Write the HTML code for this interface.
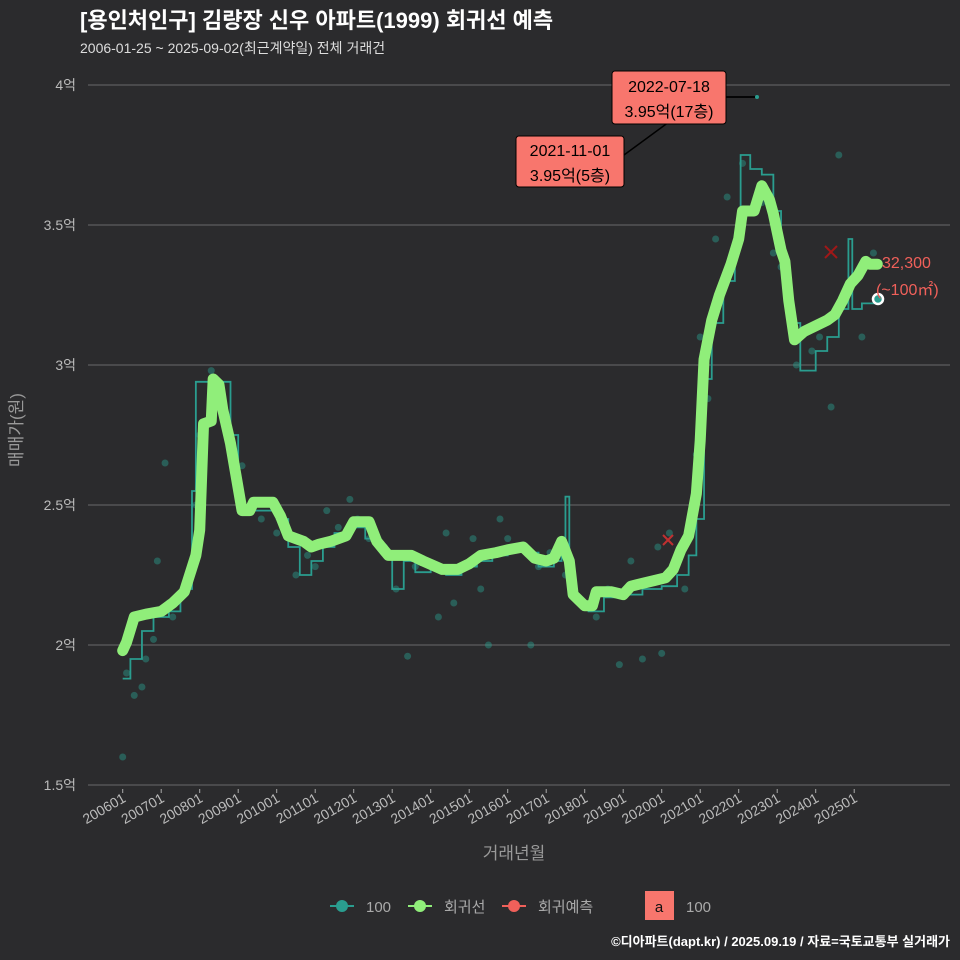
<!DOCTYPE html>
<html><head><meta charset="utf-8"><style>
body{margin:0;background:#2b2b2d;}
svg{display:block;font-family:"Liberation Sans","Noto Sans CJK KR",sans-serif;}
</style></head><body>
<svg id="c" width="960" height="960" viewBox="0 0 960 960">
<rect width="960" height="960" fill="#2b2b2d"/>
<text x="80" y="28" fill="#fff" font-size="22" font-weight="bold">[용인처인구] 김량장 신우 아파트(1999) 회귀선 예측</text>
<text x="80" y="53" fill="#ddd" font-size="14">2006-01-25 ~ 2025-09-02(최근계약일) 전체 거래건</text>
<g id="grid"></g><g id="yt"></g><g id="xt"></g>
<g id="pts"></g><g id="teal"></g><g id="green"></g><g id="ann"></g>
<text x="22" y="430" fill="#999" font-size="17" transform="rotate(-90 22 430)" text-anchor="middle">매매가(원)</text>
<text x="514" y="859" fill="#999" font-size="17" text-anchor="middle">거래년월</text>
<g font-size="15" fill="#aaa">
<g><line x1="330" y1="906" x2="354" y2="906" stroke="#2a9d8f" stroke-width="2"/><circle cx="342" cy="906" r="6" fill="#2a9d8f"/><text x="366" y="912">100</text></g>
<g><line x1="408" y1="906" x2="432" y2="906" stroke="#90ee7a" stroke-width="2"/><circle cx="420" cy="906" r="6" fill="#90ee7a"/><text x="444" y="912">회귀선</text></g>
<g><line x1="502" y1="906" x2="526" y2="906" stroke="#f0605a" stroke-width="2"/><circle cx="514" cy="906" r="6" fill="#f0605a"/><text x="538" y="912">회귀예측</text></g>
<g><rect x="645" y="891" width="29" height="29" fill="#f8766d"/><text x="659" y="912" fill="#111" text-anchor="middle">a</text><text x="686" y="912">100</text></g>
</g>
<text x="950" y="946" fill="#fff" font-size="13" font-weight="bold" text-anchor="end">©디아파트(dapt.kr) / 2025.09.19 / 자료=국토교통부 실거래가</text>
</svg>
<script>
const yTicks=[1.5,2,2.5,3,3.5,4];
const yLabels=["1.5억","2억","2.5억","3억","3.5억","4억"];
const xTickYears=[2006,2007,2008,2009,2010,2011,2012,2013,2014,2015,2016,2017,2018,2019,2020,2021,2022,2023,2024,2025];
const xTickLabels=["200601","200701","200801","200901","201001","201101","201201","201301","201401","201501","201601","201701","201801","201901","202001","202101","202201","202301","202401","202501"];
const greenT=[2006.0,2006.1,2006.3,2006.6,2007.0,2007.3,2007.6,2007.9,2008.0,2008.1,2008.3,2008.35,2008.5,2008.6,2008.8,2009.0,2009.1,2009.3,2009.4,2009.9,2010.1,2010.3,2010.7,2010.9,2011.1,2011.4,2011.8,2012.0,2012.4,2012.6,2012.9,2013.5,2013.8,2014.3,2014.7,2015.0,2015.3,2015.7,2016.0,2016.4,2016.7,2017.0,2017.2,2017.4,2017.6,2017.7,2018.0,2018.2,2018.3,2018.7,2019.0,2019.2,2019.5,2019.8,2020.1,2020.3,2020.5,2020.7,2020.9,2021.0,2021.1,2021.3,2021.5,2021.8,2022.0,2022.1,2022.4,2022.6,2022.8,2022.9,2023.1,2023.2,2023.3,2023.45,2023.7,2024.0,2024.3,2024.5,2024.7,2024.9,2025.1,2025.3,2025.4,2025.6];
const greenV=[1.98,2.01,2.10,2.11,2.12,2.15,2.19,2.32,2.41,2.79,2.80,2.95,2.93,2.84,2.72,2.56,2.48,2.48,2.51,2.51,2.46,2.39,2.37,2.35,2.36,2.37,2.39,2.44,2.44,2.37,2.32,2.32,2.30,2.27,2.27,2.29,2.32,2.33,2.34,2.35,2.31,2.30,2.31,2.37,2.30,2.18,2.14,2.14,2.19,2.19,2.18,2.21,2.22,2.23,2.24,2.27,2.34,2.39,2.54,2.73,3.02,3.16,3.25,3.36,3.45,3.55,3.55,3.64,3.59,3.54,3.41,3.37,3.23,3.09,3.12,3.14,3.16,3.18,3.23,3.29,3.32,3.37,3.36,3.36];
const tealT=[2006.0,2006.2,2006.5,2006.8,2007.2,2007.5,2007.8,2007.9,2008.6,2008.8,2009.0,2009.2,2009.6,2010.0,2010.3,2010.6,2010.9,2011.2,2011.5,2011.9,2012.3,2012.7,2013.0,2013.3,2013.6,2014.0,2014.4,2014.8,2015.2,2015.6,2016.0,2016.4,2016.8,2017.2,2017.4,2017.5,2017.6,2017.8,2018.1,2018.5,2019.0,2019.5,2020.0,2020.4,2020.7,2020.9,2021.1,2021.3,2021.6,2021.9,2022.05,2022.3,2022.6,2022.9,2023.1,2023.3,2023.6,2024.0,2024.3,2024.6,2024.85,2024.95,2025.2,2025.6];
const tealV=[1.88,1.95,2.05,2.10,2.12,2.20,2.55,2.94,2.94,2.75,2.50,2.48,2.48,2.45,2.35,2.25,2.30,2.35,2.40,2.42,2.38,2.33,2.20,2.30,2.26,2.28,2.25,2.28,2.30,2.32,2.35,2.33,2.28,2.30,2.36,2.53,2.20,2.15,2.12,2.17,2.18,2.20,2.21,2.25,2.32,2.45,2.95,3.15,3.30,3.45,3.75,3.70,3.68,3.55,3.35,3.15,2.98,3.05,3.10,3.20,3.45,3.20,3.22,3.23];
const ptT=[2006.0,2006.1,2006.3,2006.5,2006.6,2006.8,2006.9,2007.1,2007.2,2007.3,2007.6,2007.9,2008.0,2008.3,2008.5,2009.1,2009.6,2010.0,2010.5,2010.8,2011.0,2011.3,2011.6,2011.9,2012.1,2012.4,2012.8,2013.1,2013.4,2013.6,2013.9,2014.2,2014.4,2014.6,2014.9,2015.1,2015.3,2015.5,2015.8,2016.0,2016.3,2016.6,2016.8,2017.1,2017.5,2018.0,2018.3,2018.6,2018.9,2019.2,2019.5,2019.9,2020.0,2020.2,2020.6,2020.9,2021.0,2021.2,2021.4,2021.7,2022.1,2022.6,2022.9,2023.1,2023.5,2023.9,2024.1,2024.4,2024.6,2024.9,2025.2,2025.5];
const ptV=[1.60,1.90,1.82,1.85,1.95,2.02,2.30,2.65,2.15,2.10,2.20,2.50,2.75,2.98,2.90,2.64,2.45,2.40,2.25,2.32,2.28,2.48,2.42,2.52,2.45,2.38,2.35,2.20,1.96,2.28,2.30,2.10,2.40,2.15,2.28,2.38,2.20,2.00,2.45,2.38,2.35,2.00,2.28,2.33,2.25,2.15,2.10,2.20,1.93,2.30,1.95,2.35,1.97,2.40,2.20,2.68,3.10,2.88,3.45,3.60,3.72,3.58,3.40,3.35,3.00,3.05,3.10,2.85,3.75,3.30,3.10,3.40];
const NS='http://www.w3.org/2000/svg';
const X=t=>122.7+(t-2006)*38.5, Y=v=>85+(4-v)*280;
function mk(tag,attrs,parent){const e=document.createElementNS(NS,tag);for(const k in attrs)e.setAttribute(k,attrs[k]);document.getElementById(parent).appendChild(e);return e;}
yTicks.forEach((v,i)=>{
 const g=mk('line',{x1:88,x2:950,y1:Y(v),y2:Y(v),stroke:'#6a6a6a','stroke-width':1},'grid');
 
 
 const t=mk('text',{x:76,y:Y(v)+5,fill:'#bbb','font-size':14,'text-anchor':'end'},'yt');
 t.textContent=yLabels[i];
 
 
});
xTickYears.forEach((yr,i)=>{
 const x=X(yr);
 mk('line',{x1:x,x2:x,y1:789,y2:793,stroke:'#aaa'},'xt');
 const t=mk('text',{x:x+4,y:801,fill:'#bbb','font-size':14,'text-anchor':'end',transform:`rotate(-30 ${x+4} 801)`},'xt');
 t.textContent=xTickLabels[i];
 
 
});
ptT.forEach((t,i)=>{
 const c=mk('circle',{cx:X(t),cy:Y(ptV[i]),r:3.5,fill:'#2a9d8f','fill-opacity':0.45},'pts');
 
 
});
let d='';tealT.forEach((t,i)=>{d+=(i?`H${X(t)}V${Y(tealV[i])}`:`M${X(t)},${Y(tealV[i])}`);});
const tl=mk('path',{d:d,fill:'none',stroke:'#2a9d8f','stroke-width':1.8},'teal');


const gl=mk('polyline',{points:greenT.map((t,i)=>X(t)+','+Y(greenV[i])).join(' '),fill:'none',stroke:'#90ee7a','stroke-width':11,'stroke-linejoin':'round','stroke-linecap':'round'},'green');


</script>
<svg style="position:absolute;left:0;top:0" width="960" height="960">
<polyline points="624,155 703,97 757,97" fill="none" stroke="#000" stroke-width="1.5"/>
<line x1="726" y1="97" x2="757" y2="97" stroke="#000" stroke-width="1.5"/>
<circle cx="757" cy="97" r="2" fill="#2a9d8f"/>
<g font-family="Liberation Sans,Noto Sans CJK KR,sans-serif" font-size="16" text-anchor="middle">
<rect x="612" y="71" width="114" height="53" rx="3" fill="#f8766d" stroke="#000"/>
<text x="669" y="92" fill="#000">2022-07-18</text><text x="669" y="117" fill="#000">3.95억(17층)</text></g>
<g font-family="Liberation Sans,Noto Sans CJK KR,sans-serif" font-size="16" text-anchor="middle">
<rect x="516" y="136" width="108" height="51" rx="3" fill="#f8766d" stroke="#000"/>
<text x="570" y="156" fill="#000">2021-11-01</text><text x="570" y="181" fill="#000">3.95억(5층)</text></g>
<g stroke="#a01818" stroke-width="2"><line x1="825" y1="246" x2="837" y2="258"/><line x1="837" y1="246" x2="825" y2="258"/></g>
<g stroke="#c03030" stroke-width="2"><line x1="663" y1="535" x2="673" y2="545"/><line x1="673" y1="535" x2="663" y2="545"/></g>
<circle cx="878" cy="299" r="5" fill="#2a9d8f" stroke="#fff" stroke-width="2.5"/>
<text x="882" y="268" fill="#f0605a" font-size="16" font-family="Liberation Sans,Noto Sans CJK KR,sans-serif">32,300</text>
<text x="876" y="295" fill="#f0605a" font-size="16" font-family="Liberation Sans,Noto Sans CJK KR,sans-serif">(~100㎡)</text>
</svg>
</body></html>
